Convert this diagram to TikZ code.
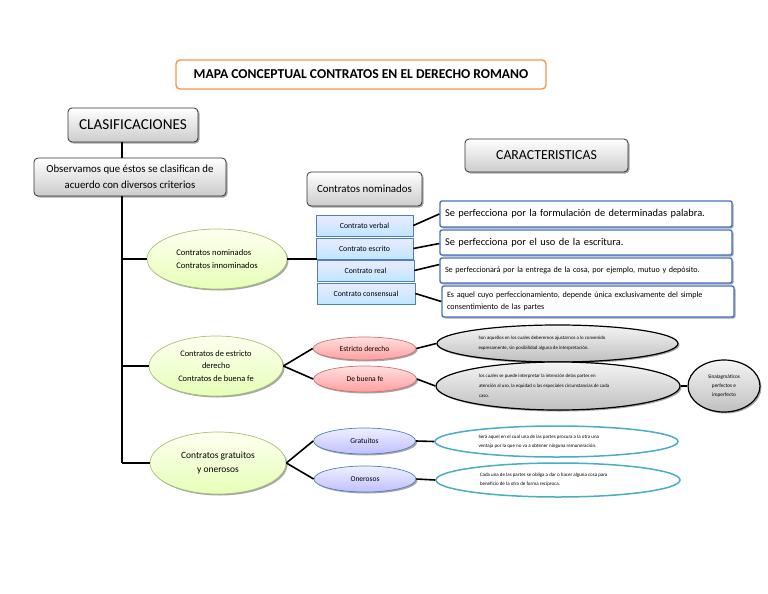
\documentclass[tikz,border=0pt]{standalone}
\usepackage{fontspec}
\setmainfont{Carlito}
\usetikzlibrary{shapes.geometric,shadows}
\definecolor{orng}{HTML}{F79646}
\definecolor{bluebd}{HTML}{4F81BD}
\definecolor{rboxbd}{HTML}{4472C4}
\definecolor{greenbd}{HTML}{A9C07A}
\definecolor{pinkbd}{HTML}{C0504D}
\definecolor{cyanbd}{HTML}{4BACC6}
\newcommand{\fz}[2]{\fontsize{#1}{#2}\selectfont}
\tikzset{
  shd/.style={drop shadow={shadow xshift=1.5pt,shadow yshift=-1.5pt,fill=black,opacity=.35}},
  graybox/.style={rectangle,rounded corners=4pt,draw=black!80,line width=0.8pt,top color=white,bottom color=black!20,shd,inner sep=2pt,align=center},
  blueb/.style={rectangle,draw=bluebd,line width=0.7pt,top color=blue!8,bottom color=blue!38!cyan!25,minimum width=97pt,minimum height=21pt,inner sep=0pt,font=\fz{7.8}{9}},
  rbox/.style={rectangle,rounded corners=2pt,draw=rboxbd,line width=1.4pt,fill=white,shd,minimum width=292pt,inner sep=0pt,text width=282pt,align=left},
  gell/.style={ellipse,draw=greenbd,line width=0.7pt,top color=green!4!yellow!6,bottom color=green!35!yellow!28,shd,inner sep=0pt},
  pell/.style={ellipse,draw=pinkbd!80,line width=0.7pt,top color=red!12,bottom color=red!38,shd,inner sep=0pt,minimum width=103pt,font=\fz{7.5}{9}},
  bell/.style={ellipse,draw=bluebd,line width=0.7pt,top color=blue!6,bottom color=blue!25,shd,inner sep=0pt,minimum width=102pt,minimum height=26pt,font=\fz{7.5}{9}},
  grell/.style={ellipse,draw=black,line width=1.2pt,top color=black!4,bottom color=black!25,shd,inner sep=0pt},
  cell/.style={ellipse,draw=cyanbd,line width=1.5pt,fill=white,inner sep=0pt,minimum width=243pt},
  conn/.style={draw=black,line width=1.6pt}
}
\begin{document}
\begin{tikzpicture}[x=1pt,y=-1pt]
\useasboundingbox (0,0) rectangle (768,594);
% title
\node[rectangle,rounded corners=4pt,draw=orng,line width=1.4pt,fill=white,minimum width=370pt,minimum height=29pt,font=\bfseries\fz{13.6}{15}] (title) at (361,74.5) {MAPA CONCEPTUAL CONTRATOS EN EL DERECHO ROMANO};
% left column
\node[graybox,minimum width=130pt,minimum height=34pt,font=\fz{15.2}{17}] (clas) at (133,125) {CLASIFICACIONES};
\node[graybox,minimum width=192pt,minimum height=38pt,font=\fz{10.8}{16}] (obs) at (130,177) {Observamos que éstos se clasifican de\\acuerdo con diversos criterios};
\coordinate (tr) at (122,0);
% ellipses
\node[gell,minimum width=140pt,minimum height=60pt,font=\fz{8.6}{13},align=left] (e1) at (217,259) {Contratos nominados\\Contratos innominados};
\node[gell,minimum width=134pt,minimum height=60pt,font=\fz{8.4}{12.5},align=center] (e2) at (216,366) {Contratos de estricto\\derecho\\Contratos de buena fe};
\node[gell,minimum width=136pt,minimum height=62pt,font=\fz{9.5}{14},align=center] (e3) at (218,463) {Contratos gratuitos\\y onerosos};
% trunk
\draw[conn] (clas.south -| tr) -- (obs.north -| tr);
\draw[conn] (obs.south -| tr) -- (e3.west -| tr);
\draw[conn] (e1.west -| tr) -- (e1.west);
\draw[conn] (e2.west -| tr) -- (e2.west);
\draw[conn] (e3.west -| tr) -- (e3.west);
% top right
\node[graybox,minimum width=163pt,minimum height=33pt,font=\fz{13.8}{15}] (car) at (546.5,155.5) {CARACTERISTICAS};
\node[graybox,minimum width=115pt,minimum height=34pt,font=\fz{10.9}{12}] (cnom) at (364.5,189) {Contratos nominados};
% blue boxes
\node[blueb] (cv) at (364.5,225.5) {Contrato verbal};
\node[blueb] (ce) at (364.5,248.5) {Contrato escrito};
\node[blueb] (cr) at (365.5,270.5) {Contrato real};
\node[blueb,minimum width=98pt] (cc) at (366,293.5) {Contrato consensual};
\coordinate (e1end) at (317,259);
\draw[conn] (e1.east) -- (e1end);
% right boxes
\node[rbox,minimum height=26pt,font=\fz{10.4}{12}] (r1) at (586,214) {Se perfecciona por la formulación de determinadas palabra.};
\node[rbox,minimum height=25pt,font=\fz{10.4}{12}] (r2) at (586,242.5) {Se perfecciona por el uso de la escritura.};
\node[rbox,minimum height=25pt,font=\fz{8.1}{9}] (r3) at (586,270.5) {Se perfeccionará por la entrega de la cosa, por ejemplo, mutuo y depósito.};
\node[rbox,minimum height=31pt,font=\fz{8.1}{12.5}] (r4) at (588,301.5) {Es aquel cuyo perfeccionamiento, depende única exclusivamente del simple\\consentimiento de las partes};
\draw[conn] (cv.east) -- (r1.west);
\draw[conn] (ce.east) -- ([yshift=-1pt]r2.west);
\draw[conn] (cr.east) -- ([yshift=6pt]r3.west);
\draw[conn] (cc.east) -- (r4.west);
% estricto / buena fe
\node[pell,minimum height=23pt] (ed) at (364.5,348.5) {Estricto derecho};
\node[pell,minimum height=26pt] (bf) at (365,379) {De buena fe};
\draw[conn] (e2.east) -- (ed.west);
\draw[conn] (e2.east) -- (bf.west);
\node[grell,minimum width=241pt,minimum height=37pt,font=\fz{4.9}{10}] (g1) at (557.5,343.5) {\begin{minipage}{158pt}Son aquellos en los cuales deberemos ajustarnos a lo convenido\\expresamente, sin posibilidad alguna de interpretación.\end{minipage}};
\node[grell,minimum width=244pt,minimum height=48pt,font=\fz{4.9}{10}] (g2) at (558,386) {\begin{minipage}{158pt}los cuales se puede interpretar la intención delas partes en\\atención al uso, la equidad o las especiales circunstancias de cada\\caso.\end{minipage}};
\node[grell,minimum width=72pt,minimum height=52pt,font=\fz{5.3}{9},align=center] (sin) at (724,386) {Sinalagmáticos\\perfectos e\\imperfecto};
\draw[conn] (ed.east) -- (g1.west);
\draw[conn] (bf.east) -- (g2.west);
\draw[conn] (g2.east) -- (sin.west);
% gratuitos / onerosos
\node[bell] (gr) at (364.5,441) {Gratuitos};
\node[bell] (on) at (365,479) {Onerosos};
\draw[conn] (e3.east) -- (gr.west);
\draw[conn] (e3.east) -- (on.west);
\node[cell,minimum height=31pt,font=\fz{5}{9}] (c1) at (556.5,441.5) {\begin{minipage}{156pt}Será aquel en el cual una de las partes procura a la otra una\\ventaja por la que no va a obtener ninguna remuneración.\end{minipage}};
\node[cell,minimum width=244pt,minimum height=34pt,font=\fz{5}{9}] (c2) at (558,480) {\begin{minipage}{156pt}Cada una de las partes se obliga a dar o hacer alguna cosa para\\beneficio de la otra de forma recíproca.\end{minipage}};
\draw[conn] (gr.east) -- (c1.west);
\draw[conn] (on.east) -- (c2.west);
\end{tikzpicture}
\end{document}
